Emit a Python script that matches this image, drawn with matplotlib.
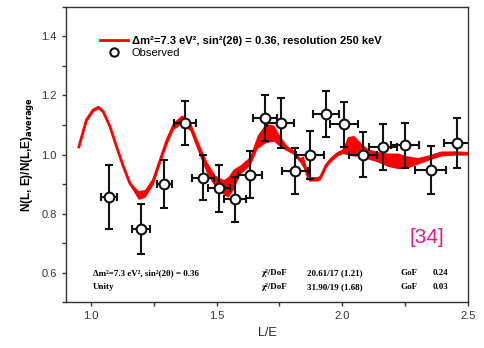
import numpy as np
import matplotlib
matplotlib.use("Agg")
import matplotlib.pyplot as plt
from matplotlib.lines import Line2D

plt.rcParams['font.family'] = ['Liberation Sans', 'DejaVu Sans']

# observed points (L/E, ratio) with errors
obs_x = [1.072, 1.199, 1.292, 1.375, 1.445, 1.510, 1.573, 1.633, 1.693, 1.754,
         1.811, 1.871, 1.936, 2.006, 2.083, 2.163, 2.249, 2.351, 2.458]
obs_y = [0.856, 0.748, 0.900, 1.106, 0.921, 0.885, 0.848, 0.932, 1.124, 1.108,
         0.945, 0.998, 1.137, 1.103, 1.000, 1.026, 1.031, 0.947, 1.038]
obs_yerr = [0.107, 0.085, 0.080, 0.075, 0.076, 0.081, 0.077, 0.080, 0.078, 0.085,
            0.078, 0.082, 0.078, 0.076, 0.076, 0.079, 0.077, 0.081, 0.085]
obs_xerr = [0.031, 0.036, 0.030, 0.044, 0.044, 0.044, 0.044, 0.048, 0.047, 0.053,
            0.052, 0.055, 0.052, 0.055, 0.056, 0.056, 0.056, 0.060, 0.052]

# oscillation prediction, lower / upper envelope of the red band
osc_x = [0.952, 0.982, 1.009, 1.029, 1.049, 1.076, 1.102, 1.129, 1.155, 1.188,
         1.215, 1.248, 1.275, 1.302, 1.328, 1.361, 1.395, 1.428, 1.461, 1.494,
         1.527, 1.545, 1.565, 1.594, 1.634, 1.661, 1.694, 1.727, 1.754, 1.780,
         1.807, 1.830, 1.845, 1.866, 1.900, 1.913, 1.935, 1.953, 1.980, 2.000,
         2.020, 2.045, 2.073, 2.100, 2.140, 2.180, 2.220, 2.260, 2.300, 2.340,
         2.392, 2.450, 2.505]
osc_lo = [1.022, 1.112, 1.146, 1.155, 1.140, 1.089, 1.021, 0.954, 0.896, 0.848,
          0.855, 0.900, 0.970, 1.035, 1.085, 1.105, 1.080, 1.005, 0.935, 0.890,
          0.865, 0.855, 0.880, 0.935, 0.965, 1.020, 1.040, 1.045, 1.025, 1.012,
          1.000, 0.975, 0.955, 0.910, 0.910, 0.915, 0.955, 0.975, 0.995, 1.003,
          1.000, 0.995, 0.995, 0.985, 0.975, 0.960, 0.952, 0.955, 0.968, 0.980,
          0.995, 0.998, 0.998]
osc_hi = [1.030, 1.122, 1.156, 1.165, 1.150, 1.099, 1.031, 0.964, 0.908, 0.878,
          0.882, 0.925, 0.990, 1.060, 1.110, 1.135, 1.110, 1.040, 0.975, 0.930,
          0.915, 0.925, 0.950, 0.965, 0.995, 1.065, 1.105, 1.100, 1.060, 1.030,
          1.015, 0.990, 0.995, 0.925, 0.925, 0.930, 0.970, 0.990, 1.010, 1.018,
          1.060, 1.065, 1.040, 1.020, 1.010, 1.005, 1.005, 0.995, 0.990, 0.998,
          1.012, 1.012, 1.010]

fig = plt.figure(figsize=(4.84, 3.48), dpi=100)
ax = fig.add_axes([0.136, 0.132, 0.831, 0.848])

red = '#ff0000'
lo = np.array(osc_lo)
hi = np.array(osc_hi)
ax.fill_between(osc_x, lo, hi, color=red, lw=0)
line, = ax.plot(osc_x, (lo + hi) / 2, color=red, lw=2)

ax.errorbar(obs_x, obs_y, yerr=obs_yerr, xerr=obs_xerr, fmt='o', color='#111111',
            mfc='white', mec='#111111', ms=7, mew=1.5, elinewidth=1.5,
            capsize=3, capthick=1.5, zorder=5)

ax.set_xlim(0.9, 2.5)
ax.set_ylim(0.5, 1.5)
ax.set_xticks([1.0, 1.5, 2.0, 2.5])
ax.set_xticks([1.25, 1.75, 2.25], minor=True)
ax.set_yticks([0.6, 0.8, 1.0, 1.2, 1.4])
ax.set_yticks([0.5, 0.7, 0.9, 1.1, 1.3, 1.5], minor=True)
ax.tick_params(which='both', direction='out', length=3, width=1, color='#333333',
               labelsize=8, labelcolor='#333333', top=False, right=False)
for s in ax.spines.values():
    s.set_color('#333333')
    s.set_linewidth(1)

ax.set_xlabel('L/E', fontsize=9, color='#222222')
ax.set_ylabel(r'N(L, E)/N(L,E)$_{\mathbf{average}}$', fontsize=8.5, fontweight='bold')

obs_handle = Line2D([], [], ls='none', marker='o', mfc='white', mec='#111111', ms=6, mew=1.5)
leg = ax.legend([line, obs_handle],
                ['Δm²=7.3 eV², sin²(2θ) = 0.36, resolution 250 keV', 'Observed'],
                loc='upper left', bbox_to_anchor=(0.075, 0.918), frameon=False,
                fontsize=8, handlelength=2.5, handletextpad=0.3, labelspacing=0.2,
                borderaxespad=0)
leg.get_texts()[0].set_fontweight('bold')

tf = dict(family=['Liberation Serif', 'DejaVu Serif'], fontweight='bold', fontsize=6.5,
          va='center')
ax.text(1.008, 0.599, 'Δm²=7.3 eV², sin²(2θ) = 0.36', **tf)
ax.text(1.008, 0.55, 'Unity', **tf)
ax.text(1.676, 0.599, 'χ²/DoF', **tf)
ax.text(1.676, 0.55, 'χ²/DoF', **tf)
ax.text(1.858, 0.599, '20.61/17 (1.21)', **tf)
ax.text(1.858, 0.55, '31.90/19 (1.68)', **tf)
ax.text(2.232, 0.599, 'GoF', **tf)
ax.text(2.232, 0.55, 'GoF', **tf)
ax.text(2.36, 0.599, '0.24', **tf)
ax.text(2.36, 0.55, '0.03', **tf)

ax.text(2.336, 0.72, '[34]', color='#e8178a', fontsize=15, ha='center', va='center')

fig.savefig('out.png', dpi=100)
